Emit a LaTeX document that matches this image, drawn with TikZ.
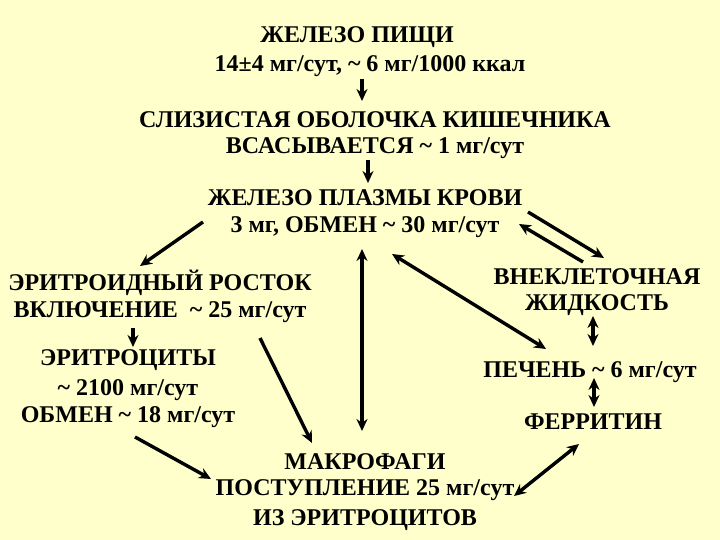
\documentclass[tikz,border=0pt]{standalone}
\usepackage{fontspec}
\setmainfont{Liberation Serif}
\usetikzlibrary{arrows.meta}
\begin{document}
\begin{tikzpicture}[x=1pt,y=-1pt,
  txt/.style={font=\fontsize{24}{26}\selectfont\bfseries,inner sep=0pt},
  arr/.style={-{Stealth[length=12pt,width=11pt]},line width=3.4pt},
  darr/.style={{Stealth[length=12pt,width=11pt]}-{Stealth[length=12pt,width=11pt]},line width=3.4pt}]
\fill[fill={rgb,255:red,255;green,255;blue,204}] (0,0) rectangle (720,540);
\useasboundingbox (0,0) rectangle (720,540);
\node[txt] (a1) at (357,37) {ЖЕЛЕЗО ПИЩИ};
\node[txt] (a2) at (370,66) {14±4 мг/сут, \textasciitilde\ 6 мг/1000 ккал};
\node[txt] (b1) at (375,120) {СЛИЗИСТАЯ ОБОЛОЧКА КИШЕЧНИКА};
\node[txt] (b2) at (375,148) {ВСАСЫВАЕТСЯ \textasciitilde\ 1 мг/сут};
\node[txt] (c1) at (365,198) {ЖЕЛЕЗО ПЛАЗМЫ КРОВИ};
\node[txt] (c2) at (365,227) {3 мг, ОБМЕН \textasciitilde\ 30 мг/сут};
\node[txt] (d1) at (160,283) {ЭРИТРОИДНЫЙ РОСТОК};
\node[txt] (d2) at (160,312) {ВКЛЮЧЕНИЕ \ \textasciitilde\ 25 мг/сут};
\node[txt] (e1) at (128,360) {ЭРИТРОЦИТЫ};
\node[txt] (e2) at (128,390) {\textasciitilde\ 2100 мг/сут};
\node[txt] (e3) at (128,417) {ОБМЕН \textasciitilde\ 18 мг/сут};
\node[txt] (f1) at (365,462) {МАКРОФАГИ};
\node[txt] (f2) at (365,490) {ПОСТУПЛЕНИЕ 25 мг/сут};
\node[txt] (f3) at (365,520) {ИЗ ЭРИТРОЦИТОВ};
\node[txt] (g1) at (597,277) {ВНЕКЛЕТОЧНАЯ};
\node[txt] (g2) at (597,305) {ЖИДКОСТЬ};
\node[txt] (h) at (590,372) {ПЕЧЕНЬ \textasciitilde\ 6 мг/сут};
\node[txt] (i) at (593,422) {ФЕРРИТИН};
\draw[arr] (362,79) -- (362,101);
\draw[arr] (368,160) -- (368,183);
\draw[arr] (203,222) -- (140,266);
\draw[arr] (133,328) -- (133,347);
\draw[arr] (135,437) -- (211,479);
\draw[arr] (260,338) -- (312,443);
\draw[darr] (362,249) -- (362,431);
\draw[arr] (528,212) -- (604,258);
\draw[arr] (583,262) -- (519,224);
\draw[darr] (392,254) -- (546,349);
\draw[darr] (593,316) -- (593,346);
\draw[darr] (594,378) -- (594,407);
\draw[darr] (579,444) -- (514,496);
\end{tikzpicture}
\end{document}
